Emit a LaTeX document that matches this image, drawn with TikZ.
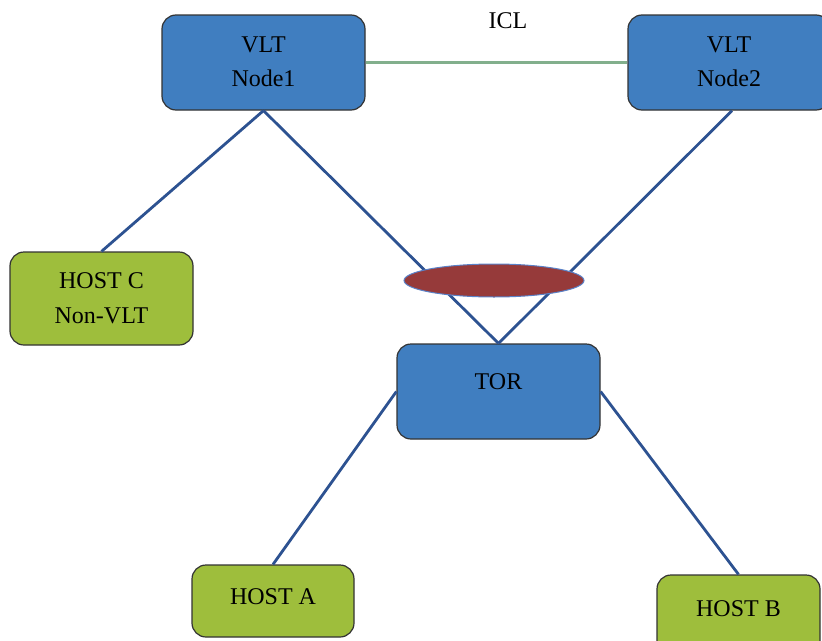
\documentclass[tikz,border=0pt]{standalone}
\usepackage{fontspec}
\setmainfont{Liberation Serif}
\usetikzlibrary{shapes.geometric}
\definecolor{boxblue}{RGB}{64,126,192}
\definecolor{boxgreen}{RGB}{158,190,60}
\definecolor{linkblue}{RGB}{45,82,145}
\definecolor{iclgreen}{RGB}{130,175,140}
\definecolor{lagred}{RGB}{150,58,58}
\definecolor{lagedge}{RGB}{90,130,200}
\tikzset{
  dev/.style={draw=black!80, line width=1.2pt, rounded corners=14pt, fill=boxblue,
    minimum width=#1, align=center, inner sep=0pt, font=\fontsize{24}{34}\selectfont},
  hostbox/.style={draw=black!80, line width=1.2pt, rounded corners=14pt, fill=boxgreen,
    align=center, inner sep=0pt, font=\fontsize{24}{35}\selectfont},
  link/.style={draw=linkblue, line width=2.8pt},
  icl/.style={draw=iclgreen, line width=2.2pt},
}
\begin{document}
\begin{tikzpicture}[x=1pt,y=-1pt]
\useasboundingbox (0,0) rectangle (822,640);
\node[dev=203pt, minimum height=95pt] (n1) at (263.5,62.5) {\raisebox{2pt}{VLT}\\\raisebox{2pt}{Node1}};
\node[dev=202pt, minimum height=95pt] (n2) at (729,62.5) {\raisebox{2pt}{VLT}\\\raisebox{2pt}{Node2}};
\node[hostbox, minimum width=183pt, minimum height=93pt] (hc) at (101.5,298.5) {HOST C\\Non-VLT};
\node[dev=203pt, minimum height=95pt] (tor) at (498.5,391.5) {\raisebox{19pt}{TOR}};
\node[hostbox, minimum width=162pt, minimum height=72pt] (ha) at (273,601) {\raisebox{8pt}{HOST A}};
\node[hostbox, minimum width=163pt, minimum height=80pt] (hb) at (738.5,615) {\raisebox{13pt}{HOST B}};
\node (icllabel) at (508,21) {\fontsize{24}{28}\selectfont ICL};
\draw[icl] (n1.east) -- (n2.west);
\draw[link] (n1.south) -- (hc.north);
\draw[link] (n1.south) -- (tor.north);
\draw[link] ([xshift=3pt]n2.south) -- (tor.north);
\draw[link] (tor.west) -- (ha.north);
\draw[link] (tor.east) -- (hb.north);
\node[ellipse, fill=lagred, draw=lagedge, line width=1pt, minimum width=180pt, minimum height=33pt, inner sep=0pt] (lag) at (494,280.5) {};
\end{tikzpicture}
\end{document}
